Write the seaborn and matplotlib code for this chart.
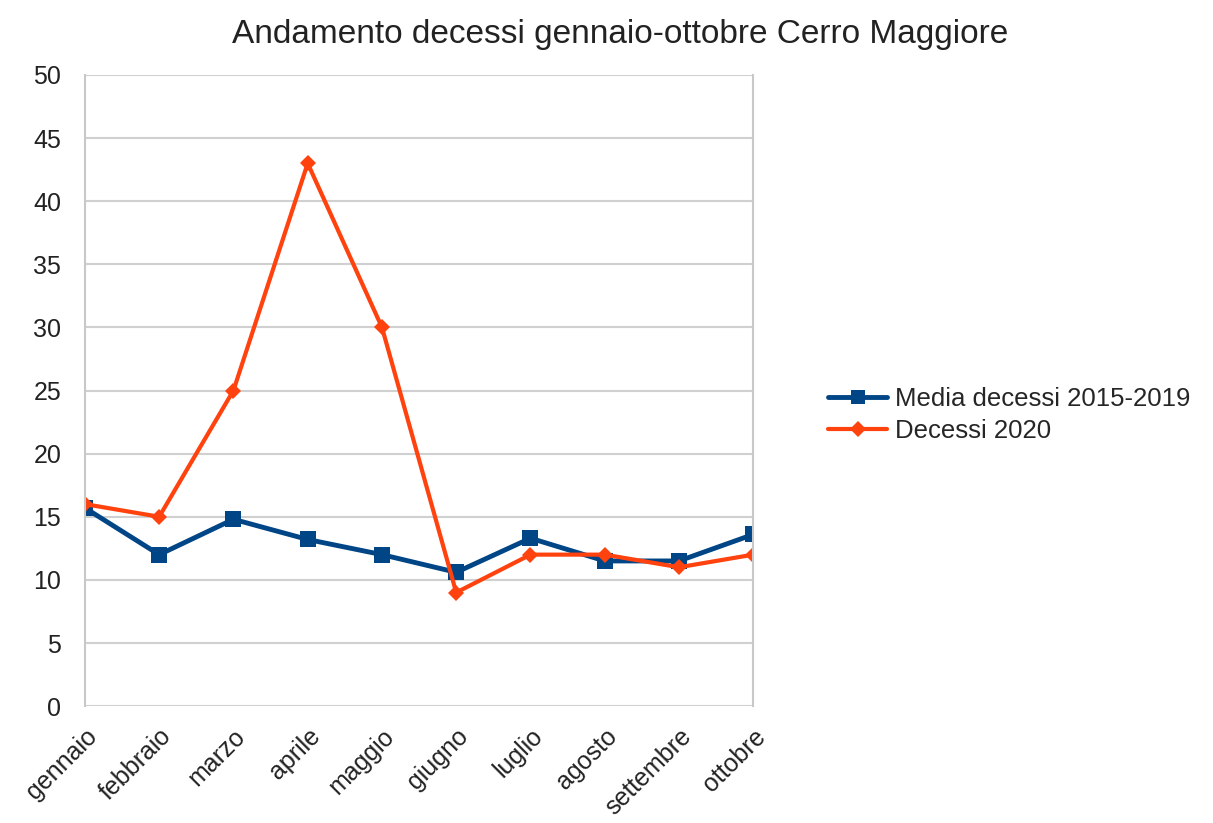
import pandas as pd
import matplotlib
matplotlib.use("Agg")
import matplotlib.pyplot as plt
import seaborn as sns

# dati
mesi = ['gennaio', 'febbraio', 'marzo', 'aprile', 'maggio',
        'giugno', 'luglio', 'agosto', 'settembre', 'ottobre']
media_2015_2019 = [15.7, 12.0, 14.8, 13.2, 12.0, 10.6, 13.3, 11.5, 11.5, 13.6]
decessi_2020 = [16, 15, 25, 43, 30, 9, 12, 12, 11, 12]
serie = ['Media decessi 2015-2019', 'Decessi 2020']

df = pd.DataFrame({
    'mese': mesi * 2,
    'decessi': media_2015_2019 + decessi_2020,
    'serie': [serie[0]] * len(mesi) + [serie[1]] * len(mesi),
})

sns.set_style('white')
plt.rcParams['font.family'] = ['Liberation Sans', 'DejaVu Sans']

fig, ax = plt.subplots(figsize=(12.13, 8.23), dpi=100)
fig.subplots_adjust(left=0.070, right=0.621, top=0.909, bottom=0.142)

sns.lineplot(data=df, x='mese', y='decessi', hue='serie', style='serie',
             palette=['#004586', '#ff420e'], markers=['s', 'D'], dashes=False,
             markeredgewidth=0, sort=False, ax=ax, legend=False)
# quadrati blu piu' grandi, rombi rossi piu' piccoli
ax.lines[0].set_linewidth(3.5)
ax.lines[0].set_markersize(12)
ax.lines[1].set_linewidth(3)
ax.lines[1].set_markersize(8.5)

ax.set_ylim(0, 50)
ax.set_yticks(range(0, 51, 5))
ax.set_xlim(0, len(mesi) - 1)
ax.grid(True, axis='y', color='#d0d0d0', linewidth=1.5)
ax.set_axisbelow(True)
for k in ['top', 'bottom']:
    ax.spines[k].set_visible(False)
for k in ['left', 'right']:
    ax.spines[k].set_color('#c8c8c8')
    ax.spines[k].set_linewidth(1.5)
ax.tick_params(axis='both', length=8, width=1.5, color='#c8c8c8',
               labelsize=18, labelcolor='#222222', pad=5)
ax.tick_params(axis='y', pad=9)
plt.setp(ax.get_xticklabels(), rotation=45, ha='right', rotation_mode='anchor')
ax.set_xlabel('')
ax.set_ylabel('')
fig.text(0.511, 0.958, 'Andamento decessi gennaio-ottobre Cerro Maggiore',
         fontsize=24, color='#222222', ha='center', va='center')

leg = fig.legend(handles=ax.lines[:2], labels=serie, loc='center left',
                 bbox_to_anchor=(828 / 1213, 1 - 415 / 823), frameon=False,
                 fontsize=18.5, handlelength=2.3, handletextpad=0.3,
                 labelspacing=0.3, borderpad=0, borderaxespad=0)
leg.legend_handles[0].set_markersize(10)
leg.legend_handles[1].set_markersize(8)

fig.savefig('out.png', dpi=100)
